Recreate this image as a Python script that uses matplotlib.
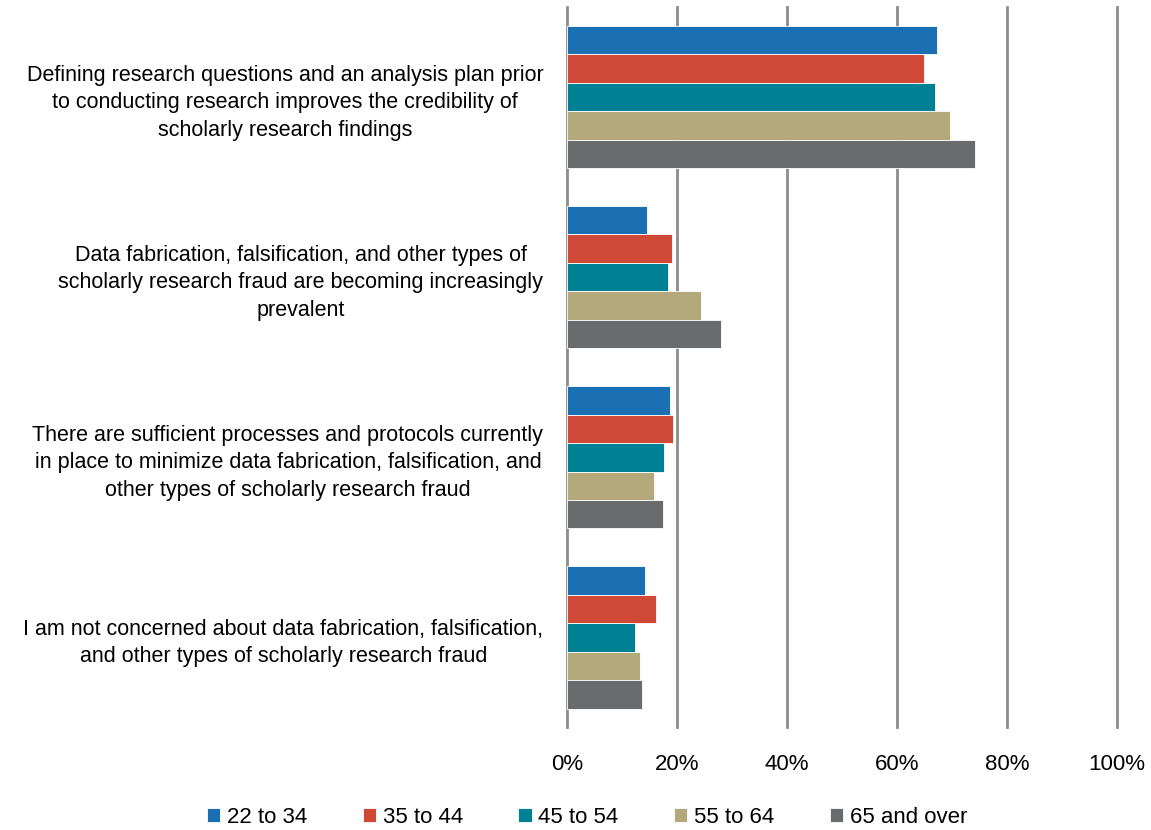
import matplotlib
matplotlib.use('Agg')
import matplotlib.pyplot as plt
import numpy as np

plt.rcParams['font.family'] = ['Liberation Sans', 'DejaVu Sans']

statements = [
    'Defining research questions and an analysis plan prior\nto conducting research improves the credibility of\nscholarly research findings',
    'Data fabrication, falsification, and other types of\nscholarly research fraud are becoming increasingly\nprevalent',
    'There are sufficient processes and protocols currently\nin place to minimize data fabrication, falsification, and\nother types of scholarly research fraud',
    'I am not concerned about data fabrication, falsification,\nand other types of scholarly research fraud',
]
age_groups = ['22 to 34', '35 to 44', '45 to 54', '55 to 64', '65 and over']
colors = ['#1a70b3', '#d04836', '#008094', '#b4a97b', '#6a6b6d']

# percent agreeing, per age group (one value per statement)
g22_34 = [67.3, 14.5, 18.7, 14.2]
g35_44 = [64.9, 19.1, 19.3, 16.2]
g45_54 = [66.9, 18.4, 17.6, 12.4]
g55_64 = [69.6, 24.4, 15.8, 13.3]
g65_up = [74.2, 28.0, 17.5, 13.6]
series = [g22_34, g35_44, g45_54, g55_64, g65_up]

fig = plt.figure(figsize=(11.51, 8.3), dpi=100)
ax = fig.add_axes([0.4926, 0.1235, 0.4779, 0.8681])

y = np.arange(len(statements))
bar_h = 0.158
for i, (vals, lab, c) in enumerate(zip(series, age_groups, colors)):
    ax.barh(y - 2 * bar_h + i * bar_h, vals, height=bar_h, color=c, label=lab,
            edgecolor='white', linewidth=0.6, zorder=3)

ax.set_ylim(len(statements) - 0.5, -0.5)
ax.set_xlim(0, 100)
ax.set_xticks(np.arange(0, 101, 20))
ax.set_xticklabels([f'{v}%' for v in range(0, 101, 20)], fontsize=16)
ax.set_yticks(y)
ax.set_yticklabels(statements, fontsize=15.5, multialignment='center', linespacing=1.4)
ax.tick_params(length=0)
ax.tick_params(axis='x', pad=19)
ax.tick_params(axis='y', pad=17)
ax.grid(axis='x', color='#8c8c8c', linewidth=2, zorder=0)
for gl in ax.get_xgridlines():
    gl.set_clip_on(False)
for s in ax.spines.values():
    s.set_visible(False)

fig.legend(loc='lower center', ncol=5, bbox_to_anchor=(0.51, -0.022), frameon=False,
           fontsize=16, handlelength=0.6, handleheight=0.6, handletextpad=0.3,
           columnspacing=2.5)

plt.savefig('out.png', dpi=100)
